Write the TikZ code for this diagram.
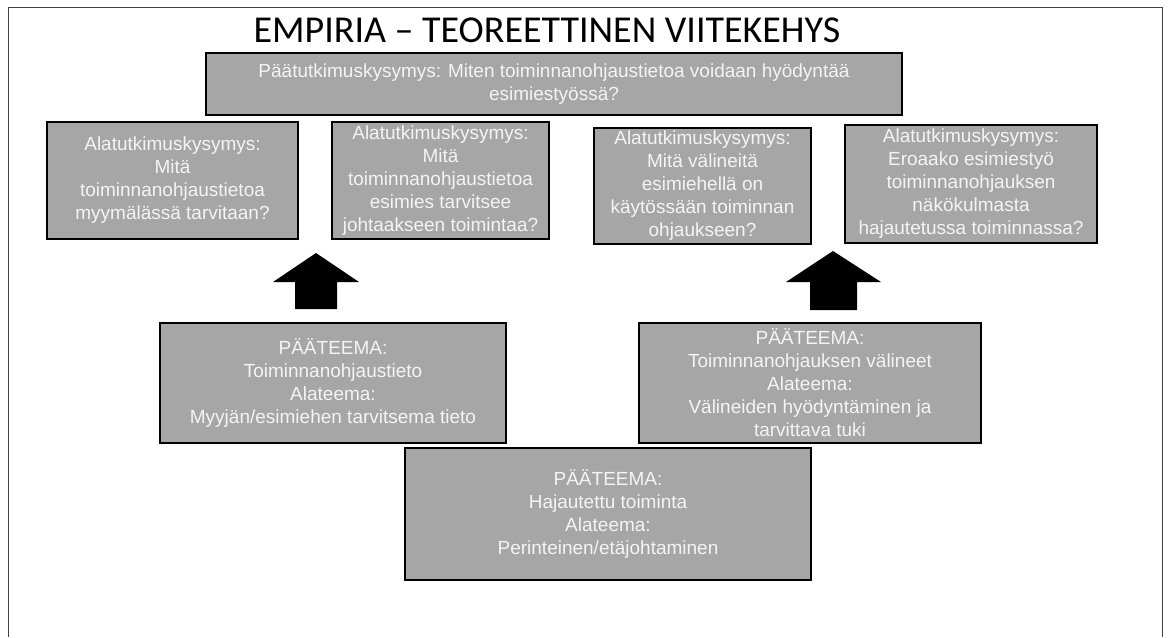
\documentclass[tikz,border=0pt]{standalone}
\usepackage{fontspec}
\setmainfont{Liberation Sans}
\newfontfamily\headfont[Ligatures=TeX]{Carlito}
\definecolor{boxgray}{HTML}{A6A6A6}
\definecolor{boxtext}{HTML}{F4F4F4}
\definecolor{framegray}{HTML}{404040}
\begin{document}
\begin{tikzpicture}[x=1pt,y=-1pt,
  box/.style={draw=black, line width=1.8pt, fill=boxgray, text=boxtext,
    align=center, inner sep=0pt, font=\fontsize{19}{23}\selectfont},
  blockarrow/.style={fill=black, draw=none}]
  % page area and frame
  \useasboundingbox (0,0) rectangle (1169,637);
  \draw[framegray, line width=1pt] (8,637) -- (8,7) -- (1162,7) -- (1162,637);

  % heading
  \node[anchor=base, inner sep=0pt, font=\headfont\fontsize{38}{40}\selectfont] (title) at (547,42)
    {EMPIRIA – TEOREETTINEN VIITEKEHYS};

  % main research question
  \node[box, minimum width=696, minimum height=62] (main) at (554,84)
    {Päätutkimuskysymys: Miten toiminnanohjaustietoa voidaan hyödyntää\\esimiestyössä?};

  % sub-questions
  \node[box, minimum width=251, minimum height=117] (qa) at (172.5,180.5)
    {Alatutkimuskysymys:\\Mitä\\toiminnanohjaustietoa\\myymälässä tarvitaan?};
  \node[box, minimum width=217, minimum height=117] (qb) at (440.5,180.5)
    {Alatutkimuskysymys:\\Mitä\\toiminnanohjaustietoa\\esimies tarvitsee\\johtaakseen toimintaa?};
  \node[box, minimum width=217, minimum height=116] (qc) at (702.5,186)
    {Alatutkimuskysymys:\\Mitä välineitä\\esimiehellä on\\käytössään toiminnan\\ohjaukseen?};
  \node[box, minimum width=252, minimum height=118] (qd) at (971,184)
    {Alatutkimuskysymys:\\Eroaako esimiestyö\\toiminnanohjauksen\\näkökulmasta\\hajautetussa toiminnassa?};

  % themes
  \node[box, minimum width=346, minimum height=120] (te) at (333,383)
    {PÄÄTEEMA:\\Toiminnanohjaustieto\\Alateema:\\Myyjän/esimiehen tarvitsema tieto};
  \node[box, minimum width=342, minimum height=120] (tf) at (810,383)
    {PÄÄTEEMA:\\Toiminnanohjauksen välineet\\Alateema:\\Välineiden hyödyntäminen ja\\tarvittava tuki};
  \node[box, minimum width=406, minimum height=132] (tg) at (608,514)
    {PÄÄTEEMA:\\Hajautettu toiminta\\Alateema:\\Perinteinen/etäjohtaminen};

  % block arrows pointing up from the themes to the questions
  \coordinate (tipl) at (316,253);
  \coordinate (tipr) at (833,251);
  \fill[blockarrow] (tipl) -- ++(43,29) -- ++(-22,0) -- ++(0,27) -- ++(-42,0)
    -- ++(0,-27) -- ++(-22,0) -- cycle;
  \fill[blockarrow] (tipr) -- ++(48,31) -- ++(-24,0) -- ++(0,28) -- ++(-47,0)
    -- ++(0,-28) -- ++(-24,0) -- cycle;
\end{tikzpicture}
\end{document}
